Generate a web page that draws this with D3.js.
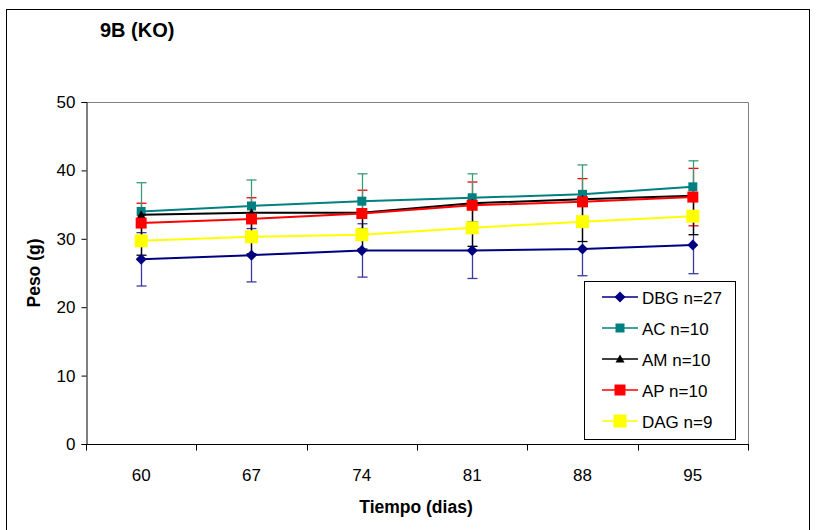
<!DOCTYPE html>
<html lang="es">
<head>
<meta charset="UTF-8">
<style>
  body { margin: 0; background: #fff; }
  text { font-family: "Liberation Sans", Arial, sans-serif; }
</style>
</head>
<body>
<script src="https://d3js.org/d3.v7.min.js"></script>
<div id="here"></div>
<script>
// days
const dias = ["60", "67", "74", "81", "88", "95"];
const yTicks = [0, 10, 20, 30, 40, 50];

// mean weight per group
const dbg = [27.0, 27.6, 28.3, 28.3, 28.5, 29.1];
const ac  = [34.0, 34.8, 35.5, 36.0, 36.5, 37.6];
const am  = [33.5, 33.8, 33.8, 35.2, 35.8, 36.3];
const ap  = [32.3, 32.9, 33.7, 34.9, 35.4, 36.1];
const dag = [29.7, 30.3, 30.6, 31.6, 32.5, 33.3];

// standard deviation
const dbgErr = [3.9, 3.9, 3.9, 4.1, 3.9, 4.2];
const acErr  = [4.2, 3.8, 4.0, 3.5, 4.3, 3.8];
const amErr  = [5.9, 6.0, 5.3, 6.3, 6.2, 5.7];
const apErr  = [2.9, 3.1, 3.4, 3.4, 3.4, 4.2];

const series = [
  { name: "DBG n=27", values: dbg, err: dbgErr, color: "#000080", errColor: "#3a3aa0", marker: "diamond", size: 11, up: true },
  { name: "AC n=10",  values: ac,  err: acErr,  color: "#008080", errColor: "#3a9a7a", marker: "square", size: 9, up: true },
  { name: "AM n=10",  values: am,  err: amErr,  color: "#000000", errColor: "#000000", marker: "triangle", size: 9, up: false },
  { name: "AP n=10",  values: ap,  err: apErr,  color: "#ff0000", errColor: "#ff0000", marker: "square", size: 11, up: true },
  { name: "DAG n=9",  values: dag, err: null,   color: "#ffff00", errColor: "#ffff00", marker: "square", size: 13, up: true }
];

const W = 816, H = 530;
const pLeft = 86, pRight = 748, pTop = 102, pBottom = 444;

const svg = d3.select("#here").append("svg")
  .attr("width", W).attr("height", H);

svg.append("rect").attr("width", W).attr("height", H).attr("fill", "#fff");
// outer frame
svg.append("rect")
  .attr("x", 6.5).attr("y", 9.5).attr("width", 803).attr("height", 530)
  .attr("fill", "none").attr("stroke", "#000").attr("stroke-width", 1);

const x = d3.scaleBand().domain(dias).range([pLeft, pRight]);
const y = d3.scaleLinear().domain([0, 50]).range([pBottom, pTop]);
const cx = d => x(d) + x.bandwidth() / 2;

// plot border (top and right)
svg.append("path")
  .attr("d", `M${pLeft},${pTop + 0.5}H${pRight + 0.5}V${pBottom}`)
  .attr("fill", "none").attr("stroke", "#808080");

// y axis
const yAxis = svg.append("g")
  .attr("transform", `translate(${pLeft + 0.5},0)`)
  .call(d3.axisLeft(y).tickValues(yTicks).tickSize(5).tickPadding(6));
yAxis.select(".domain").attr("stroke", "#000");
yAxis.selectAll("text").attr("font-size", 17).attr("fill", "#000")
  .style("font-family", "'Liberation Sans', Arial, sans-serif");

// x axis, ticks on the category boundaries
const xAxis = svg.append("g")
  .attr("transform", `translate(0,${pBottom + 0.5})`);
xAxis.append("line").attr("x1", pLeft).attr("x2", pRight + 1).attr("stroke", "#000");
const bounds = dias.map(d => x(d)).concat([pRight]);
xAxis.selectAll(".tk").data(bounds).join("line")
  .attr("x1", d => Math.round(d) + 0.5).attr("x2", d => Math.round(d) + 0.5)
  .attr("y1", 0).attr("y2", 6).attr("stroke", "#000");
xAxis.selectAll(".lb").data(dias).join("text")
  .attr("x", d => cx(d)).attr("y", 36)
  .attr("text-anchor", "middle").attr("font-size", 17).text(d => d);

// titles
svg.append("text").attr("x", 100).attr("y", 37)
  .attr("font-size", 20).attr("font-weight", "bold").text("9B (KO)");
svg.append("text").attr("x", 416).attr("y", 513)
  .attr("text-anchor", "middle").attr("font-size", 17.5).attr("font-weight", "bold")
  .text("Tiempo (dias)");
svg.append("text")
  .attr("transform", `translate(40,${(pTop + pBottom) / 2}) rotate(-90)`)
  .attr("text-anchor", "middle").attr("font-size", 17.5).attr("font-weight", "bold")
  .text("Peso (g)");

const markerPath = (type, s) => {
  const h = s / 2;
  if (type === "diamond") return `M0,${-h}L${h},0L0,${h}L${-h},0Z`;
  if (type === "triangle") return `M0,${-h}L${h},${h * 0.8}L${-h},${h * 0.8}Z`;
  return `M${-h},${-h}H${h}V${h}H${-h}Z`;
};

const line = d3.line().x((v, i) => cx(dias[i])).y(v => y(v));

// error bars
const errOrder = [0, 3, 1, 2];
errOrder.forEach(k => {
  const s = series[k];
  if (!s.err) return;
  const g = svg.append("g").attr("stroke", s.errColor).attr("stroke-width", 1.3);
  s.values.forEach((v, i) => {
    const px = Math.round(cx(dias[i])) + 0.5;
    const hi = s.up ? v + s.err[i] : v;
    const lo = v - s.err[i];
    g.append("line").attr("x1", px).attr("x2", px).attr("y1", y(hi)).attr("y2", y(lo));
    if (s.up) g.append("line").attr("x1", px - 5).attr("x2", px + 5).attr("y1", y(hi)).attr("y2", y(hi));
    g.append("line").attr("x1", px - 5).attr("x2", px + 5).attr("y1", y(lo)).attr("y2", y(lo));
  });
});

// lines and markers
series.forEach(s => {
  svg.append("path").datum(s.values)
    .attr("d", line).attr("fill", "none")
    .attr("stroke", s.color).attr("stroke-width", 2);
  svg.selectAll(null).data(s.values).join("path")
    .attr("transform", (v, i) => `translate(${cx(dias[i])},${y(v)})`)
    .attr("d", markerPath(s.marker, s.size))
    .attr("fill", s.color);
});

// legend
const lg = svg.append("g");
lg.append("rect").attr("x", 584.5).attr("y", 281.5).attr("width", 151).attr("height", 158)
  .attr("fill", "#fff").attr("stroke", "#000");
series.forEach((s, i) => {
  const ly = 297 + i * 31;
  lg.append("line").attr("x1", 602).attr("x2", 638).attr("y1", ly).attr("y2", ly)
    .attr("stroke", s.color).attr("stroke-width", 1.5);
  lg.append("path").attr("transform", `translate(620,${ly})`)
    .attr("d", markerPath(s.marker, s.size)).attr("fill", s.color);
  lg.append("text").attr("x", 642).attr("y", ly + 6.5).attr("font-size", 17).text(s.name);
});
</script>
</body>
</html>
